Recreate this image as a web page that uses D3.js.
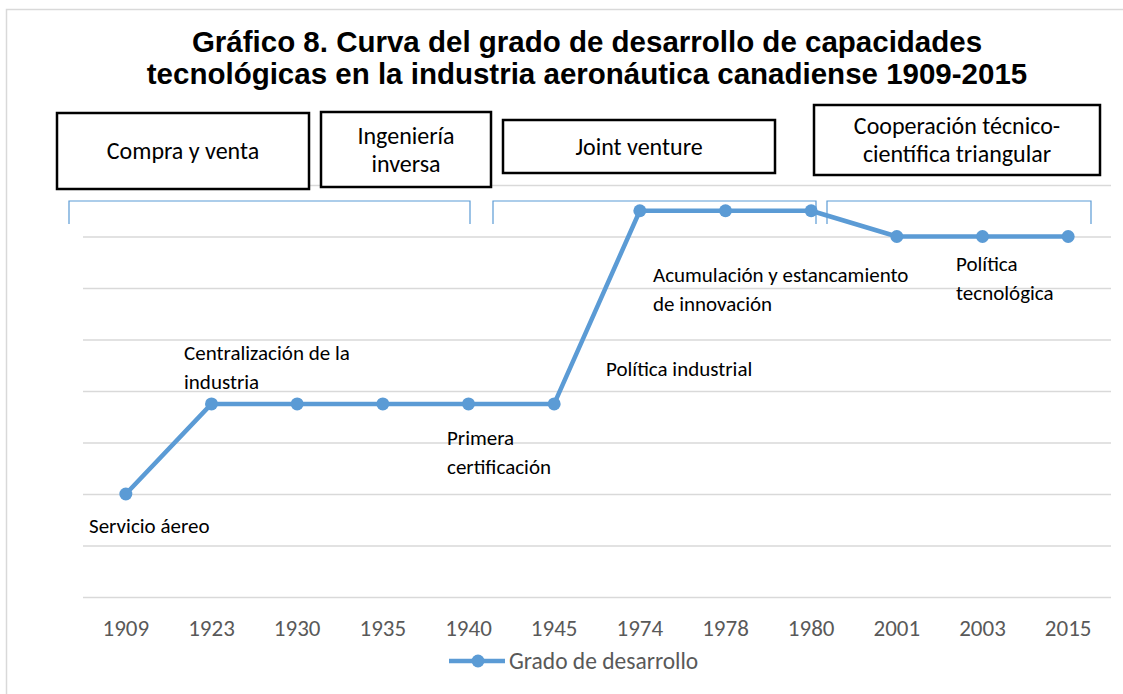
<!DOCTYPE html>
<html>
<head>
<meta charset="utf-8">
<script src="https://cdn.jsdelivr.net/npm/d3@7"></script>
<style>
  body { margin: 0; background: #fff; }
  svg { display: block; }
  text { font-family: Calibri, Carlito, Lato, sans-serif; }
</style>
</head>
<body>
<svg id="chart" width="1123" height="694"></svg>
<script>
// values
const years = ['1909', '1923', '1930', '1935', '1940', '1945', '1974', '1978', '1980', '2001', '2003', '2015'];
const grado = [2, 3.75, 3.75, 3.75, 3.75, 3.75, 7.5, 7.5, 7.5, 7, 7, 7];
const titleLines = ['Gráfico 8. Curva del grado de desarrollo de capacidades',
    'tecnológicas en la industria aeronáutica canadiense 1909-2015'];
const periodLabels = [['Compra y venta'], ['Ingeniería', 'inversa'], ['Joint venture'],
    ['Cooperación técnico-', 'científica triangular']];
const noteLabels = [['Servicio áereo'], ['Centralización de la', 'industria'], ['Primera', 'certificación'],
    ['Política industrial'], ['Acumulación y estancamiento', 'de innovación'], ['Política', 'tecnológica']];
const seriesName = 'Grado de desarrollo';

// layout (pixels)
const W = 1123, H = 694;
const plot = { left: 83, right: 1111, top: 185, bottom: 597 };
const BLUE = '#5B9BD5';
const boxes = [
    { x: 57, y: 113, w: 252, h: 76 },
    { x: 321, y: 112, w: 170, h: 75 },
    { x: 503, y: 120, w: 272, h: 53 },
    { x: 814, y: 105, w: 286, h: 70 }
];
const brackets = [[69, 470], [493, 816], [827, 1091]];
const notePos = [[89, 526], [184, 353], [447, 438], [606, 369], [653, 275], [956, 264]];

const svg = d3.select('#chart');

svg.append('rect')
    .attr('x', 6.5).attr('y', 9.5)
    .attr('width', W + 20).attr('height', H + 20)
    .attr('fill', '#fff')
    .attr('stroke', '#d9d9d9')
    .attr('stroke-width', 1.5);

const x = d3.scaleBand()
    .domain(years)
    .range([plot.left, plot.right]);

const y = d3.scaleLinear()
    .domain([0, 8])
    .range([plot.bottom, plot.top]);

// gridlines
const grid = svg.append('g')
    .attr('transform', `translate(${plot.left},0)`)
    .call(d3.axisLeft(y).ticks(8).tickSize(-(plot.right - plot.left)).tickFormat(''));
grid.select('.domain').remove();
grid.selectAll('line')
    .attr('stroke', '#d9d9d9')
    .attr('stroke-width', 1.5);

// x axis labels
const xAxis = svg.append('g')
    .attr('transform', `translate(0,${plot.bottom})`)
    .call(d3.axisBottom(x).tickSize(0).tickPadding(23));
xAxis.select('.domain').remove();
xAxis.selectAll('text')
    .attr('fill', '#595959')
    .style('font-size', '23px')
    .style('font-family', 'Calibri, Carlito, Lato, sans-serif');

// title
svg.append('g').selectAll('text')
    .data(titleLines)
    .join('text')
    .attr('x', 587)
    .attr('y', (d, i) => 52 + i * 32)
    .attr('text-anchor', 'middle')
    .style('font-family', '"Liberation Sans", Arial, sans-serif')
    .style('font-weight', 'bold')
    .style('font-size', '29.5px')
    .attr('fill', '#000')
    .text(d => d);

// period boxes
const pb = svg.append('g').selectAll('g')
    .data(periodLabels)
    .join('g');
pb.append('rect')
    .attr('x', (d, i) => boxes[i].x)
    .attr('y', (d, i) => boxes[i].y)
    .attr('width', (d, i) => boxes[i].w)
    .attr('height', (d, i) => boxes[i].h)
    .attr('fill', '#fff')
    .attr('stroke', '#000')
    .attr('stroke-width', 2.5);
pb.each(function(d, i) {
    const b = boxes[i];
    const cy = b.y + b.h / 2;
    d3.select(this).selectAll('text')
        .data(d)
        .join('text')
        .attr('x', b.x + b.w / 2)
        .attr('y', (t, j) => cy + (j - (d.length - 1) / 2) * 28)
        .attr('dy', '0.35em')
        .attr('text-anchor', 'middle')
        .style('font-size', '24px')
        .attr('fill', '#000')
        .text(t => t);
});

// brackets
svg.append('g').selectAll('path')
    .data(brackets)
    .join('path')
    .attr('d', d => `M${d[0]},224V201H${d[1]}V224`)
    .attr('fill', 'none')
    .attr('stroke', BLUE)
    .attr('stroke-width', 1.2);

// series line
const line = d3.line()
    .x((d, i) => x(years[i]) + x.bandwidth() / 2)
    .y(d => y(d));

svg.append('path')
    .datum(grado)
    .attr('d', line)
    .attr('fill', 'none')
    .attr('stroke', BLUE)
    .attr('stroke-width', 4.5)
    .attr('stroke-linejoin', 'round');

svg.append('g').selectAll('circle')
    .data(grado)
    .join('circle')
    .attr('cx', (d, i) => x(years[i]) + x.bandwidth() / 2)
    .attr('cy', d => y(d))
    .attr('r', 6.5)
    .attr('fill', BLUE);

// annotations
svg.append('g').selectAll('text')
    .data(noteLabels)
    .join('text')
    .each(function(d, i) {
        const [nx, ny] = notePos[i];
        d3.select(this).selectAll('tspan')
            .data(d)
            .join('tspan')
            .attr('x', nx)
            .attr('y', (t, j) => ny + j * 29)
            .attr('dy', '0.35em')
            .text(t => t);
    })
    .style('font-size', '21px')
    .attr('fill', '#000');

// legend
const legend = svg.append('g').attr('transform', 'translate(449,661)');
legend.append('line')
    .attr('x1', 0).attr('x2', 56)
    .attr('stroke', BLUE)
    .attr('stroke-width', 4.5);
legend.append('circle')
    .attr('cx', 29).attr('r', 6.5)
    .attr('fill', BLUE);
legend.append('text')
    .attr('x', 60)
    .attr('dy', '0.35em')
    .attr('fill', '#595959')
    .style('font-size', '23.5px')
    .text(seriesName);
</script>
</body>
</html>
